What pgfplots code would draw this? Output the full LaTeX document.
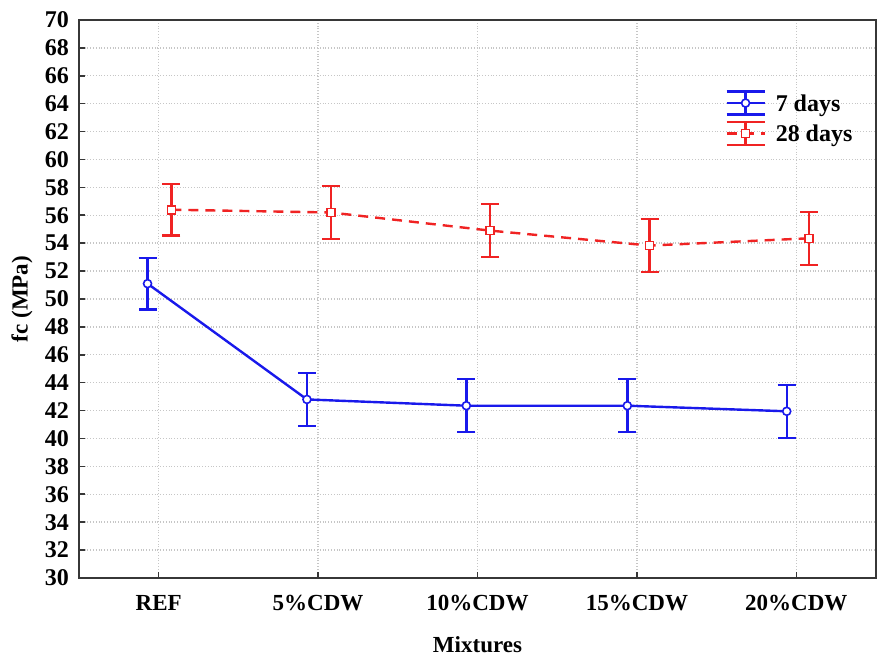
\documentclass[border=0pt]{standalone}
\usepackage{pgfplots}
\pgfplotsset{compat=1.18}
\usepackage{fontspec}
\setmainfont{Liberation Serif}

\definecolor{sblue}{RGB}{25,25,235}
\definecolor{sred}{RGB}{240,35,35}
\definecolor{axgray}{RGB}{55,55,55}

% legend icon with error-bar caps
\pgfplotsset{
  errleg/.style={legend image code/.code={
    \draw[##1,solid,mark=none] (0pt,5.75pt) -- (19pt,5.75pt);
    \draw[##1,solid,mark=none] (0pt,-5.75pt) -- (19pt,-5.75pt);
    \draw[##1,solid,mark=none] (9.5pt,-5.75pt) -- (9.5pt,5.75pt);
    \draw[##1,mark repeat=2,mark phase=2] plot coordinates {(0pt,0pt) (9.5pt,0pt) (19pt,0pt)};
  }}
}

\pgfplotstableread{
x     y      e
-0.07 51.10  1.85
0.93  42.80  1.90
1.93  42.35  1.90
2.94  42.35  1.90
3.94  41.95  1.90
}\sevendays

\pgfplotstableread{
x     y      e
0.08  56.40  1.85
1.08  56.20  1.90
2.08  54.90  1.90
3.08  53.83  1.90
4.08  54.35  1.90
}\twentyeight

\begin{document}
\begin{tikzpicture}
\useasboundingbox (-39.5pt,-39pt) rectangle (400pt,289pt);
\begin{axis}[
  at={(0pt,0pt)}, anchor=south west,
  scale only axis,
  width=398.5pt, height=279pt,
  xmin=-0.5, xmax=4.5,
  ymin=30, ymax=70,
  ytick={30,32,...,70},
  xtick={0,1,2,3,4},
  xticklabels={REF,5\%CDW,10\%CDW,15\%CDW,20\%CDW},
  tick pos=left,
  tick align=inside,
  major tick length=3pt,
  tick style={axgray, line width=0.8pt},
  axis line style={axgray, line width=0.9pt},
  grid=major,
  major grid style={densely dotted, gray!45, line width=0.7pt},
  /pgf/number format/assume math mode=true,
  yticklabel style={font=\fontsize{12}{14}\selectfont\bfseries, xshift=-1.5pt},
  xticklabel style={font=\fontsize{11.5}{14}\selectfont\bfseries, yshift=-5pt},
  xlabel={Mixtures},
  ylabel={fc (MPa)},
  every axis x label/.style={at={(axis description cs:0.5,0)}, anchor=center, yshift=-33.5pt,
    font=\fontsize{11.5}{14}\selectfont\bfseries},
  every axis y label/.style={at={(axis description cs:-0.0715,0.5)}, anchor=center, rotate=90,
    font=\fontsize{11.5}{14}\selectfont\bfseries},
  legend style={at={(axis description cs:0.8105,0.8746)}, anchor=north west,
    draw=none, fill=none, inner sep=0pt,
    font=\fontsize{12}{14}\selectfont\bfseries,
    row sep=2.5pt,
    nodes={inner sep=1pt, text depth=0pt},
    /tikz/every odd column/.append style={column sep=4pt}},
  legend cell align=left,
]
\addplot[sblue, line width=1.2pt, mark=*, mark size=2pt,
  mark options={fill=white, line width=0.8pt}, errleg,
  error bars/.cd, y dir=both, y explicit,
  error bar style={line width=1.2pt, sblue},
  error mark options={rotate=90, mark size=4.5pt, line width=1.2pt, sblue}]
  table[x=x, y=y, y error=e] {\sevendays};
\addlegendentry{7 days}

\addplot[sred, line width=1.2pt, dash pattern=on 5pt off 3.5pt, mark=square*, mark size=2pt,
  mark options={fill=white, solid, line width=0.8pt}, errleg,
  error bars/.cd, y dir=both, y explicit,
  error bar style={line width=1.2pt, solid, sred},
  error mark options={rotate=90, mark size=4.5pt, line width=1.2pt, solid, sred}]
  table[x=x, y=y, y error=e] {\twentyeight};
\addlegendentry{28 days}
\end{axis}
\end{tikzpicture}
\end{document}
